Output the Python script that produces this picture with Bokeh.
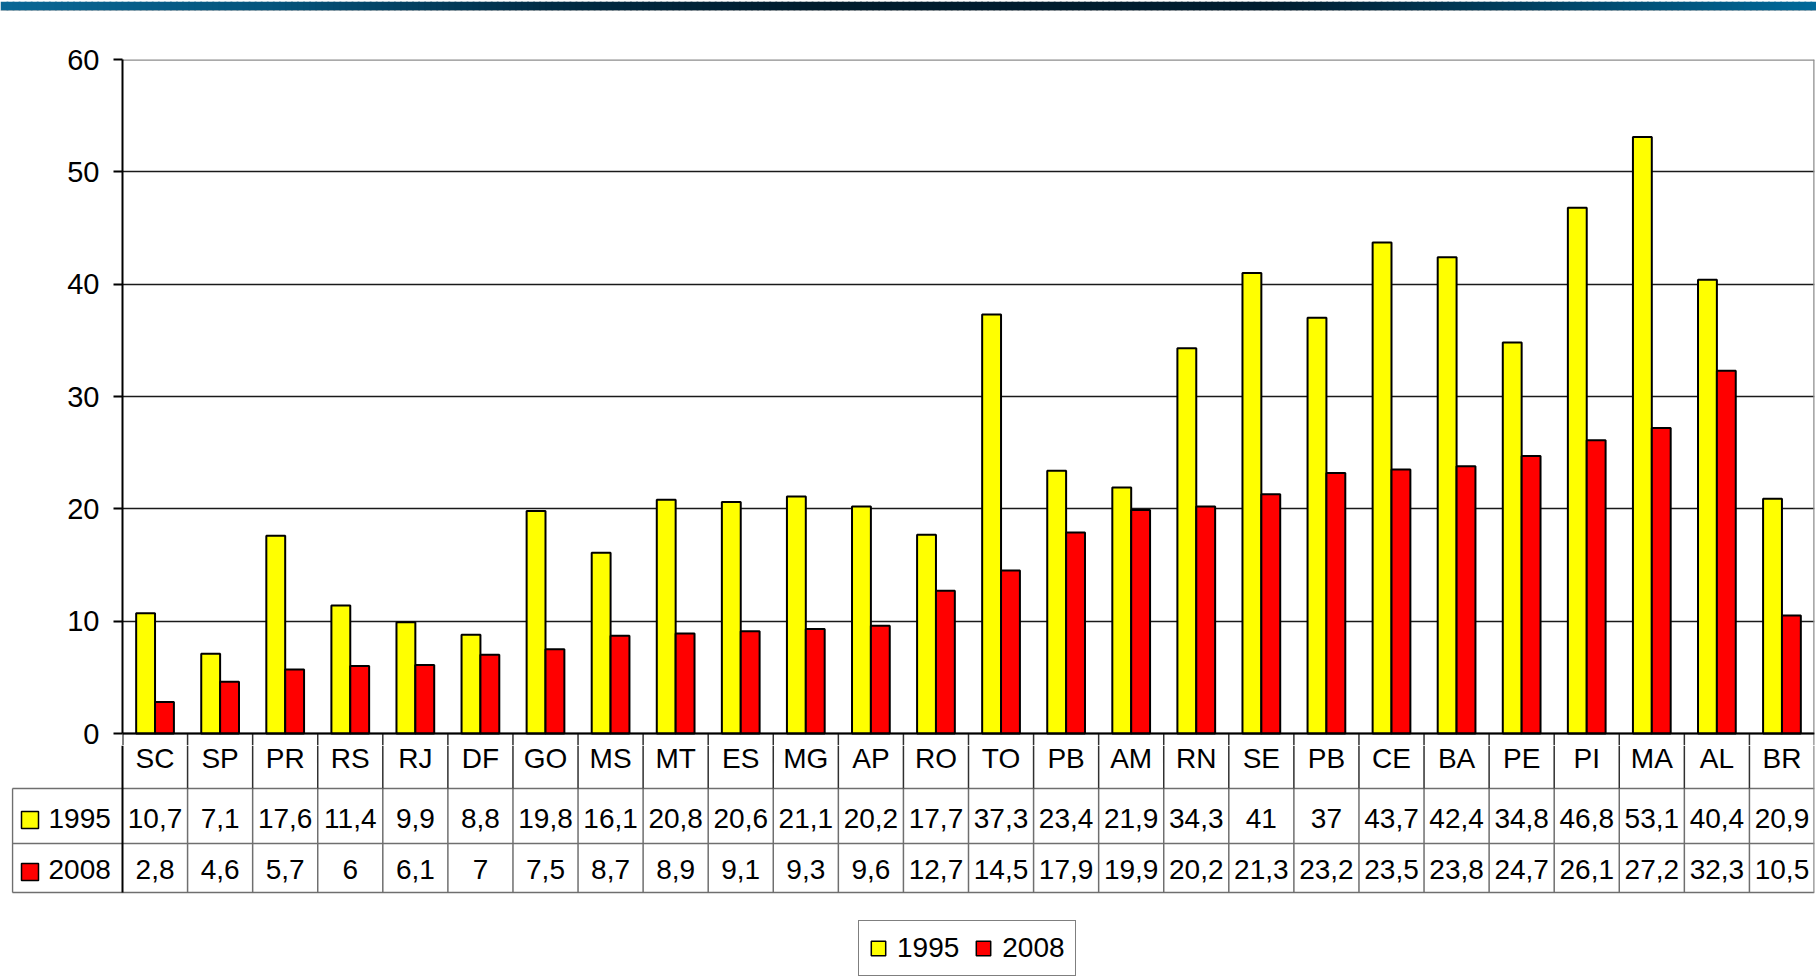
import numpy as np
from bokeh.plotting import figure
from bokeh.models import Range1d, FixedTicker, Legend, LegendItem, ColumnDataSource
from bokeh.transform import dodge
from bokeh.layouts import column
from bokeh.embed import file_html
from bokeh.resources import INLINE
from bokeh.core.properties import value

# ---------------- data ----------------
categories = ["SC", "SP", "PR", "RS", "RJ", "DF", "GO", "MS", "MT", "ES", "MG", "AP", "RO",
              "TO", "PB", "AM", "RN", "SE", "PB", "CE", "BA", "PE", "PI", "MA", "AL", "BR"]
v1995 = [10.7, 7.1, 17.6, 11.4, 9.9, 8.8, 19.8, 16.1, 20.8, 20.6, 21.1, 20.2, 17.7,
         37.3, 23.4, 21.9, 34.3, 41, 37, 43.7, 42.4, 34.8, 46.8, 53.1, 40.4, 20.9]
v2008 = [2.8, 4.6, 5.7, 6, 6.1, 7, 7.5, 8.7, 8.9, 9.1, 9.3, 9.6, 12.7,
         14.5, 17.9, 19.9, 20.2, 21.3, 23.2, 23.5, 23.8, 24.7, 26.1, 27.2, 32.3, 10.5]
series_names = ["1995", "2008"]
y_ticks = [0, 10, 20, 30, 40, 50, 60]

# ---------------- style ----------------
FONT = "Liberation Sans"
FS = "28px"
YELLOW = "#FFFF00"
RED = "#FF0000"
W = 1816
n = len(categories)
PLOT_L, PLOT_R = 122, 1814
cw = (PLOT_R - PLOT_L) / n


def fmt(v):
    return f"{v:g}".replace(".", ",")


# ---------------- top gradient bar ----------------
BAR_H = 11
bar = figure(width=W, height=BAR_H, x_range=Range1d(0, 1), y_range=Range1d(0, BAR_H),
             toolbar_location=None, output_backend="svg", x_axis_location=None,
             y_axis_location=None, min_border=0, outline_line_color=None, frame_align=False)
bar.grid.visible = False
stops = [0, 0.15, 0.3, 0.45, 0.7, 0.82, 1.0]
cols = np.array([(10, 104, 150), (5, 85, 125), (2, 45, 70), (0, 28, 45), (0, 30, 48),
                 (0, 60, 90), (0, 106, 155)], dtype=float)
ns = 300
xs = np.linspace(0, 1, ns + 1)
mid = (xs[:-1] + xs[1:]) / 2
rgb = np.stack([np.interp(mid, stops, cols[:, k]) for k in range(3)], axis=1).astype(int)
colors = ["#%02x%02x%02x" % tuple(c) for c in rgb]
bar.quad(left=xs[:-1], right=xs[1:] + 0.001, bottom=2, top=BAR_H, fill_color=colors, line_color=None)
bar.quad(left=[0], right=[1], bottom=[0.5], top=[2], fill_color="#a8a8a8", line_color=None)

# ---------------- chart ----------------
idx = np.arange(n)
src = ColumnDataSource(dict(x=idx + 0.5, v1995=v1995, v2008=v2008))
FR_TOP, FR_BOT, ZERO = 59, 745, 733
ppu = (ZERO - FR_TOP) / 60.0
y_lo = -(FR_BOT - ZERO) / ppu
p = figure(width=W, height=FR_BOT - BAR_H, x_range=Range1d(0, n), y_range=Range1d(y_lo, 60),
           toolbar_location=None, output_backend="svg", x_axis_location=None,
           min_border_left=PLOT_L, min_border_right=W - PLOT_R, min_border_top=FR_TOP - BAR_H,
           min_border_bottom=0, outline_line_color=None, frame_align=False)
p.background_fill_color = "white"
p.border_fill_color = "white"
bw = 0.29
p.vbar(x=dodge("x", -bw / 2), top="v1995", width=bw, bottom=0, source=src,
       fill_color=YELLOW, line_color="black", line_width=2)
p.vbar(x=dodge("x", bw / 2), top="v2008", width=bw, bottom=0, source=src,
       fill_color=RED, line_color="black", line_width=2)
p.xgrid.visible = False
p.ygrid.ticker = FixedTicker(ticks=y_ticks)
p.ygrid.grid_line_color = "#1a1a1a"
p.ygrid.grid_line_width = 1.5
# plot-area border (top and right gray, as in the reference)
p.segment(x0=[0, n], x1=[n, n], y0=[60, 60], y1=[60, y_lo], line_color="#8c8c8c", line_width=2.5)
# category-row separators starting under the baseline
p.segment(x0=list(range(1, n)), x1=list(range(1, n)), y0=[0] * (n - 1), y1=[y_lo] * (n - 1),
          line_color="#303030", line_width=1.5)
p.segment(x0=[0], x1=[0], y0=[0], y1=[y_lo], line_color="black", line_width=2)
p.segment(x0=[0], x1=[n], y0=[0], y1=[0], line_color="black", line_width=2)
p.yaxis.ticker = FixedTicker(ticks=y_ticks)
p.yaxis.bounds = (0, 60)
p.yaxis.axis_line_color = "black"
p.yaxis.axis_line_width = 2
p.yaxis.major_tick_out = 9
p.yaxis.major_tick_in = 0
p.yaxis.major_tick_line_width = 2
p.yaxis.minor_tick_line_color = None
p.yaxis.major_label_standoff = 14
p.yaxis.major_label_text_font = FONT
p.yaxis.major_label_text_font_size = "29px"
p.yaxis.major_label_text_color = "black"

# ---------------- data table + legend ----------------
T_LEFT = 11
T_H = 978 - FR_BOT
row_b = [86, 135, 190]       # row boundaries (px above page bottom)
t = figure(width=W, height=T_H, x_range=Range1d(-(PLOT_L - T_LEFT) / cw, n),
           y_range=Range1d(0, T_H),
           toolbar_location=None, output_backend="svg", x_axis_location=None,
           y_axis_location=None, min_border_left=T_LEFT, min_border_right=W - PLOT_R,
           min_border_top=0, min_border_bottom=0, outline_line_color=None, frame_align=False)
t.grid.visible = False
left_edge = -(PLOT_L - 12) / cw
t.segment(x0=[left_edge] * 3, x1=[n] * 3, y0=row_b, y1=row_b,
          line_color="#6f6f6f", line_width=1.5)
t.segment(x0=[left_edge], x1=[left_edge], y0=[row_b[0]], y1=[row_b[2]],
          line_color="#6f6f6f", line_width=1.5)
t.segment(x0=list(range(1, n)), x1=list(range(1, n)), y0=[row_b[2]] * (n - 1), y1=[T_H] * (n - 1),
          line_color="#303030", line_width=1.5)
t.segment(x0=list(range(1, n)), x1=list(range(1, n)), y0=[row_b[0]] * (n - 1),
          y1=[row_b[2]] * (n - 1), line_color="#6f6f6f", line_width=1.5)
t.segment(x0=[0], x1=[0], y0=[row_b[0]], y1=[T_H], line_color="black", line_width=2)
t.segment(x0=[n], x1=[n], y0=[row_b[0]], y1=[T_H], line_color="#8c8c8c", line_width=2.5)

tsrc = ColumnDataSource(dict(x=idx + 0.5, cat=categories, t1995=[fmt(v) for v in v1995],
                             t2008=[fmt(v) for v in v2008]))
txt = dict(text_font=value(FONT), text_font_size=FS, text_align="center",
           text_baseline="middle", text_color="black")
YCAT, Y95, Y08 = 220, 160.5, 109
t.text(x="x", y=YCAT, text="cat", source=tsrc, **txt)
t.text(x="x", y=Y95, text="t1995", source=tsrc, **txt)
t.text(x="x", y=Y08, text="t2008", source=tsrc, **txt)

sq_x = (29.5 - PLOT_L) / cw
lab_x = (48 - PLOT_L) / cw
sq95 = t.rect(x=[sq_x], y=[Y95 - 2], width=17, height=17, width_units="screen",
              height_units="screen", fill_color=YELLOW, line_color="black", line_width=1.5)
sq08 = t.rect(x=[sq_x], y=[Y08 - 2.5], width=17, height=17, width_units="screen",
              height_units="screen", fill_color=RED, line_color="black", line_width=1.5)
t.text(x=[lab_x, lab_x], y=[Y95, Y08], text=series_names, text_font=value(FONT),
       text_font_size=FS, text_align="left", text_baseline="middle", text_color="black")

legend = Legend(items=[LegendItem(label=series_names[0], renderers=[sq95]),
                       LegendItem(label=series_names[1], renderers=[sq08])],
                orientation="horizontal", location=(858 - T_LEFT, 2), margin=0,
                padding=10, spacing=15, label_standoff=10, glyph_width=18, glyph_height=18,
                label_height=34, label_text_font=FONT, label_text_font_size=FS,
                label_text_color="black",
                border_line_color="black", border_line_width=1.5,
                background_fill_color="white", background_fill_alpha=1)
t.add_layout(legend, "center")

layout = column(bar, p, t, spacing=0)
open("out.html", "w").write(file_html(layout, INLINE))
